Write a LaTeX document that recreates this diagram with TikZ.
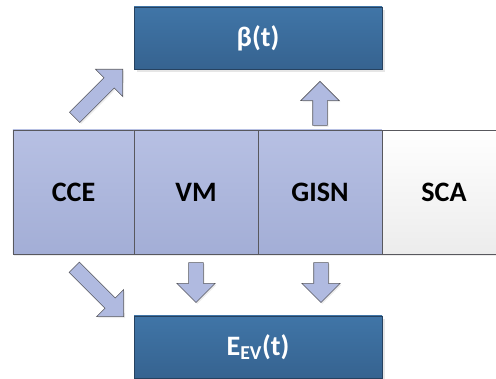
\documentclass[tikz,border=0pt]{standalone}
\usepackage{fontspec}
\setmainfont{Carlito}
\usetikzlibrary{positioning,calc,shapes.arrows,shadows}
\definecolor{cellhi}  {RGB}{183,192,227}
\definecolor{celllo}  {RGB}{163,174,214}
\definecolor{cellline}{RGB}{ 88, 88, 94}
\definecolor{scalo}   {RGB}{236,236,236}
\definecolor{boxhi}   {RGB}{ 64,117,167}
\definecolor{boxlo}   {RGB}{ 54, 99,144}
\definecolor{boxline} {RGB}{ 38, 66, 96}
\definecolor{arrfill} {RGB}{176,186,224}
\tikzset{
  cell/.style={draw=cellline,top color=cellhi,bottom color=celllo,
               minimum width=3.1cm,minimum height=3.1cm,outer sep=0pt,
               font=\fontsize{20}{24}\selectfont\bfseries,text=black,
               drop shadow={shadow xshift=1pt,shadow yshift=-1.5pt,
               opacity=0.15}},
  cellwhite/.style={cell,top color=white,bottom color=scalo},
  outbox/.style={draw=boxline,top color=boxhi,bottom color=boxlo,
               minimum width=6.2cm,minimum height=1.55cm,outer sep=0pt,
               font=\fontsize{20}{24}\selectfont\bfseries,text=white,
               drop shadow={shadow xshift=2pt,shadow yshift=-2pt,
               opacity=0.2}},
  barrow/.style={single arrow,draw=cellline,fill=arrfill,
               single arrow head extend=0.3cm,single arrow tip angle=90,
               inner xsep=0pt,inner ysep=0.175cm,minimum width=0pt,
               anchor=tip,
               drop shadow={shadow xshift=1pt,shadow yshift=-1pt,
               opacity=0.15}},
}

\begin{document}
\begin{tikzpicture}
  \useasboundingbox (0,0) rectangle (12.4,9.475);

  % middle row of blocks
  \node[cell,minimum width=3.025cm,anchor=west](CCE) at (0.325,4.675) {CCE};
  \node[cell,right=0pt of CCE](VM)   {VM};
  \node[cell,right=0pt of VM](GISN)  {GISN};
  \node[cellwhite,right=0pt of GISN](SCA) {SCA};

  % outputs
  \node[outbox,above=1.525cm of VM.north east](BT)  {β(t)};
  \node[outbox,below=1.55cm of VM.south east](EEV) {E\textsubscript{EV}(t)};

  % block arrows, placed by their tips
  \node[barrow,rotate=45,minimum height=1.7cm](A1) at ($(BT.south west)+(-0.275,0)$) {};
  \node[barrow,rotate=90,minimum height=1.1cm](A2) at ($(GISN.north)+(0,1.225)$) {};
  \node[barrow,rotate=-45,minimum height=1.75cm](A3) at ($(EEV.north west)+(-0.25,-0.025)$) {};
  \node[barrow,rotate=-90,minimum height=1cm](A4) at ($(VM.south)+(0,-1.225)$) {};
  \node[barrow,rotate=-90,minimum height=1cm](A5) at ($(GISN.south)+(0.025,-1.225)$) {};
\end{tikzpicture}
\end{document}
